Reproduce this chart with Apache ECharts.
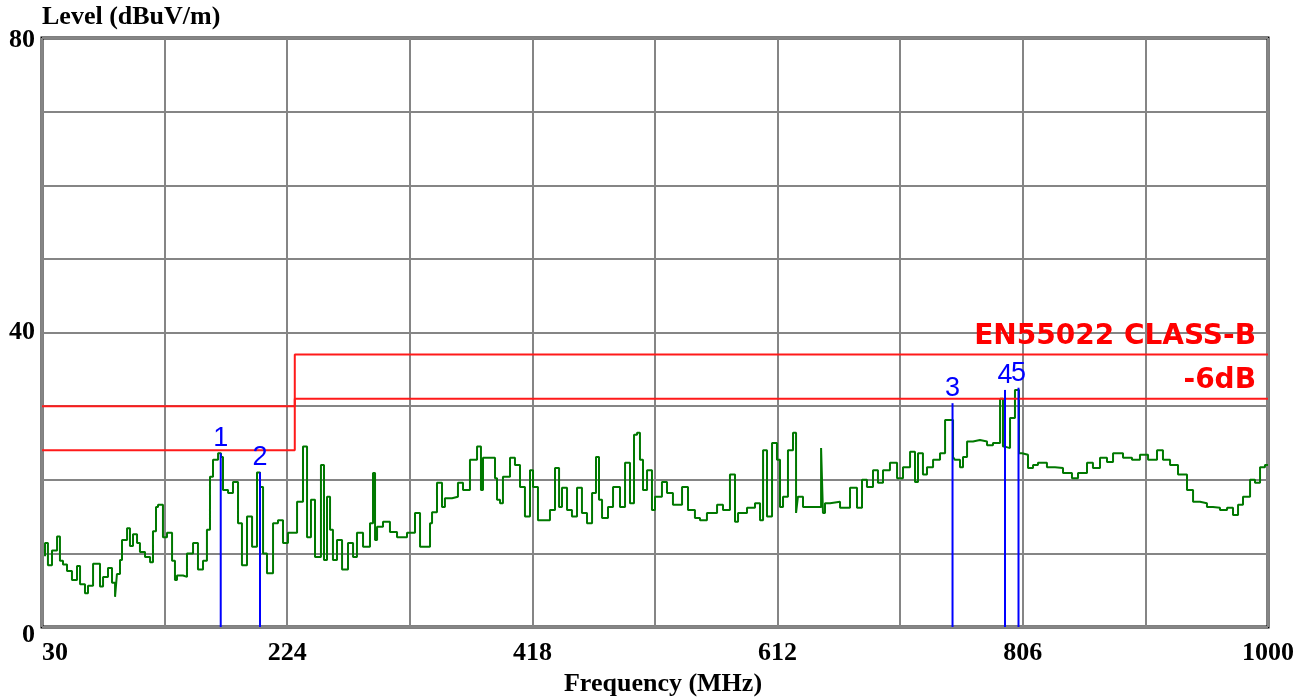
<!DOCTYPE html>
<html><head><meta charset="utf-8">
<script src="https://cdn.jsdelivr.net/npm/echarts@6/dist/echarts.min.js"></script>
<style>html,body{margin:0;padding:0;background:#fff}#c{width:1313px;height:698px}</style>
</head><body><div id="c"></div>
<script>
// ---- data ----
const freqMHz = [
 32.4,34.7,37.9,41.9,44.2,46.6,49.8,53.7,57.7,60.1,
 64.0,66.4,70.4,75.9,78.3,82.2,85.4,87.8,89.3,91.7,
 93.3,97.3,99.6,102.0,105.2,107.5,111.5,115.5,117.8,120.2,
 121.8,125.7,128.9,132.9,135.2,136.8,141.6,144.7,149.5,153.4,
 157.4,160.5,162.9,165.3,169.3,171.6,173.2,177.2,181.1,185.1,
 188.2,192.2,196.2,200.1,202.5,204.9,208.0,212.8,216.7,220.7,
 224.6,231.8,236.5,239.7,242.8,246.0,250.7,253.1,255.5,257.9,
 260.2,263.4,267.4,272.1,276.1,279.2,284.0,289.5,291.9,293.5,
 295.1,299.8,305.3,310.9,318.8,325.1,329.1,333.0,337.0,338.6,
 342.5,346.5,348.8,354.4,359.1,363.1,368.6,374.2,377.3,378.9,
 382.9,388.4,390.0,392.4,394.7,400.3,404.2,408.2,412.1,416.1,
 418.5,422.4,426.4,431.9,435.9,439.1,441.4,445.4,449.3,453.3,
 457.2,461.2,465.2,468.3,470.7,473.1,477.8,481.8,487.3,491.3,
 495.2,498.4,500.8,503.1,505.5,508.7,512.6,515.0,520.5,524.5,
 529.2,536.4,541.1,546.6,550.6,556.1,564.1,568.8,574.3,578.3,
 580.7,587.8,594.1,598.1,600.5,603.6,607.6,611.5,613.9,616.3,
 620.2,624.2,626.6,628.1,632.1,635.3,640.0,646.4,647.9,649.5,
 653.5,661.4,669.3,674.8,678.8,682.7,687.5,691.4,695.4,700.9,
 706.5,711.2,716.8,720.7,723.1,727.0,730.2,735.0,740.5,744.5,
 748.4,750.8,752.3,756.3,758.7,761.9,766.6,772.1,777.7,782.4,
 788.0,790.3,791.9,795.9,799.8,803.0,805.4,810.1,814.1,818.0,
 825.1,831.5,837.8,844.9,849.7,856.8,861.5,867.1,872.6,877.4,
 885.3,892.4,898.7,905.1,912.2,916.9,922.5,928.8,935.9,940.7,
 946.2,951.7,956.5,962.0,967.6,972.3,976.3,980.2,985.8,989.7,
 993.7,997.6,1000
];
const levelDbuVm = [
 9.6,11.4,8.4,10.4,12.3,9.0,8.5,7.6,6.4,8.3,
 5.8,4.6,5.6,8.6,5.5,6.8,8.0,6.0,4.1,7.2,
 9.1,11.8,13.4,11.0,12.6,11.4,10.2,9.5,8.8,13.0,
 16.3,16.6,12.2,12.8,9.0,6.4,7.0,6.8,10.0,11.4,
 7.8,9.0,13.2,20.4,22.7,23.6,23.1,18.6,18.2,19.7,
 14.1,8.4,15.0,10.9,21.0,19.0,10.0,7.3,14.1,14.5,
 11.4,12.8,17.0,24.5,12.2,17.3,9.5,22.0,9.1,17.7,
 13.2,9.1,11.8,7.8,11.4,9.5,12.8,10.9,14.1,20.9,
 11.8,13.6,14.3,12.9,12.2,12.8,15.5,10.9,10.9,14.1,
 15.6,19.6,16.3,17.5,17.7,19.6,18.6,22.7,24.5,18.6,
 23.0,23.0,20.2,17.3,16.8,20.4,23.0,22.0,19.0,15.0,
 21.3,19.0,14.5,14.5,15.9,21.6,16.3,18.9,15.9,15.0,
 18.9,15.5,14.1,18.2,23.1,17.3,14.8,16.3,19.0,16.3,
 22.3,16.8,26.1,26.4,22.7,18.6,21.3,15.9,17.7,19.7,
 18.2,16.6,19.0,15.9,14.8,14.5,15.5,16.6,15.9,20.7,
 14.3,15.5,16.2,16.8,14.5,24.0,15.0,25.0,22.7,16.3,
 17.7,24.0,26.4,15.5,17.7,16.3,16.3,16.3,24.3,15.5,
 16.8,17.0,16.2,18.9,16.2,20.0,19.0,21.3,19.6,21.3,
 22.3,20.2,21.7,23.8,19.7,23.6,20.7,21.7,22.7,23.6,
 28.1,28.1,23.1,22.7,21.7,23.1,25.2,25.4,25.2,24.7,
 25.0,31.0,24.5,24.3,28.4,32.2,23.6,23.4,21.6,22.0,
 22.3,21.7,21.6,20.9,20.2,20.9,22.3,21.6,23.0,22.4,
 23.6,23.0,22.7,23.4,22.7,24.0,22.7,22.0,20.7,18.6,
 17.0,16.8,16.3,16.2,15.9,16.2,15.2,16.6,17.7,20.0,
 19.6,21.7,22.0
];
const limitFreq = [30, 230, 230, 1000];
const classBLimit = [30, 30, 37, 37];
const classBMargin = [24, 24, 31, 31];
const limitNames = ['EN55022 CLASS-B', '-6dB'];
const markerFreq = [171.4, 202.5, 750.4, 791.9, 802.6];
const markerLevel = [23.6, 21.0, 30.4, 32.2, 32.5];
const markerNames = ['1', '2', '3', '4', '5'];
const xTickLabels = ['30', '224', '418', '612', '806', '1000'];
const yTickLabels = ['0', '40', '80'];
const xAxisTitle = 'Frequency (MHz)';
const yAxisTitle = 'Level (dBuV/m)';

// ---- chart ----
const zip = (a, b) => a.map((v, i) => [v, b[i]]);
const serif = 'Liberation Serif';
const FS = 26;
const chart = echarts.init(document.getElementById('c'), null, {renderer: 'canvas'});
chart.setOption({
  animation: false,
  backgroundColor: '#ffffff',
  grid: {left: 42, right: 45, top: 38, bottom: 71, outerBoundsMode: 'none', containLabel: false,
    show: true, borderColor: '#000', borderWidth: 3, backgroundColor: '#fff'},
  xAxis: {
    type: 'value', min: 30, max: 1000, interval: 97,
    axisLine: {show: false}, axisTick: {show: false},
    splitLine: {show: true, lineStyle: {color: '#858585', width: 2}},
    axisLabel: {
      margin: 13, color: '#000', fontFamily: serif, fontWeight: 'bold', fontSize: FS,
      showMinLabel: true, showMaxLabel: true, alignMinLabel: 'left',
      formatter: v => { const s = String(Math.round(v)); return xTickLabels.indexOf(s) >= 0 ? s : ''; }
    },
    name: xAxisTitle, nameLocation: 'middle', nameGap: 43,
    nameTextStyle: {color: '#000', fontFamily: serif, fontWeight: 'bold', fontSize: FS, padding: [0, 0, 0, 16]}
  },
  yAxis: {
    type: 'value', min: 0, max: 80, interval: 10,
    axisLine: {show: false}, axisTick: {show: false},
    splitLine: {show: true, lineStyle: {color: '#858585', width: 2}},
    axisLabel: {
      margin: 7, color: '#000', fontFamily: serif, fontWeight: 'bold', fontSize: FS,
      formatter: v => { const s = String(Math.round(v)); if (yTickLabels.indexOf(s) < 0) return ''; return v === 0 ? '{z|' + s + '}' : (v === 80 ? '{t|' + s + '}' : s); },
      rich: {
        z: {fontFamily: serif, fontWeight: 'bold', fontSize: FS, color: '#000', padding: [16, 0, 0, 0]},
        t: {fontFamily: serif, fontWeight: 'bold', fontSize: FS, color: '#000', padding: [4, 0, 0, 0]}
      }
    },
    name: yAxisTitle, nameLocation: 'end', nameGap: 8,
    nameTextStyle: {color: '#000', fontFamily: serif, fontWeight: 'bold', fontSize: FS, align: 'left', verticalAlign: 'bottom'}
  },
  series: [
    {
      type: 'line', data: zip(freqMHz, levelDbuVm), step: 'start', symbol: 'none',
      lineStyle: {color: '#007800', width: 2}, z: 3
    },
    {
      type: 'line', data: zip(limitFreq, classBLimit), symbol: 'none',
      lineStyle: {color: '#ff1a1a', width: 2}, z: 4,
      endLabel: {show: true, formatter: limitNames[0], align: 'right', offset: [-20, -18],
        color: '#ff0000', fontFamily: 'DejaVu Sans', fontWeight: 'bold', fontSize: 28}
    },
    {
      type: 'line', data: zip(limitFreq, classBMargin), symbol: 'none',
      lineStyle: {color: '#ff1a1a', width: 2}, z: 4,
      endLabel: {show: true, formatter: limitNames[1], align: 'right', offset: [-20, -18],
        color: '#ff0000', fontFamily: 'DejaVu Sans', fontWeight: 'bold', fontSize: 28}
    },
    {
      type: 'bar', data: zip(markerFreq, markerLevel), barWidth: 2, z: 5,
      itemStyle: {color: '#0000ff'},
      label: {show: true, position: 'top', distance: 1, color: '#0000ff', fontFamily: 'Liberation Sans', fontSize: 27,
        formatter: p => markerNames[p.dataIndex]}
    }
  ]
});
</script></body></html>
